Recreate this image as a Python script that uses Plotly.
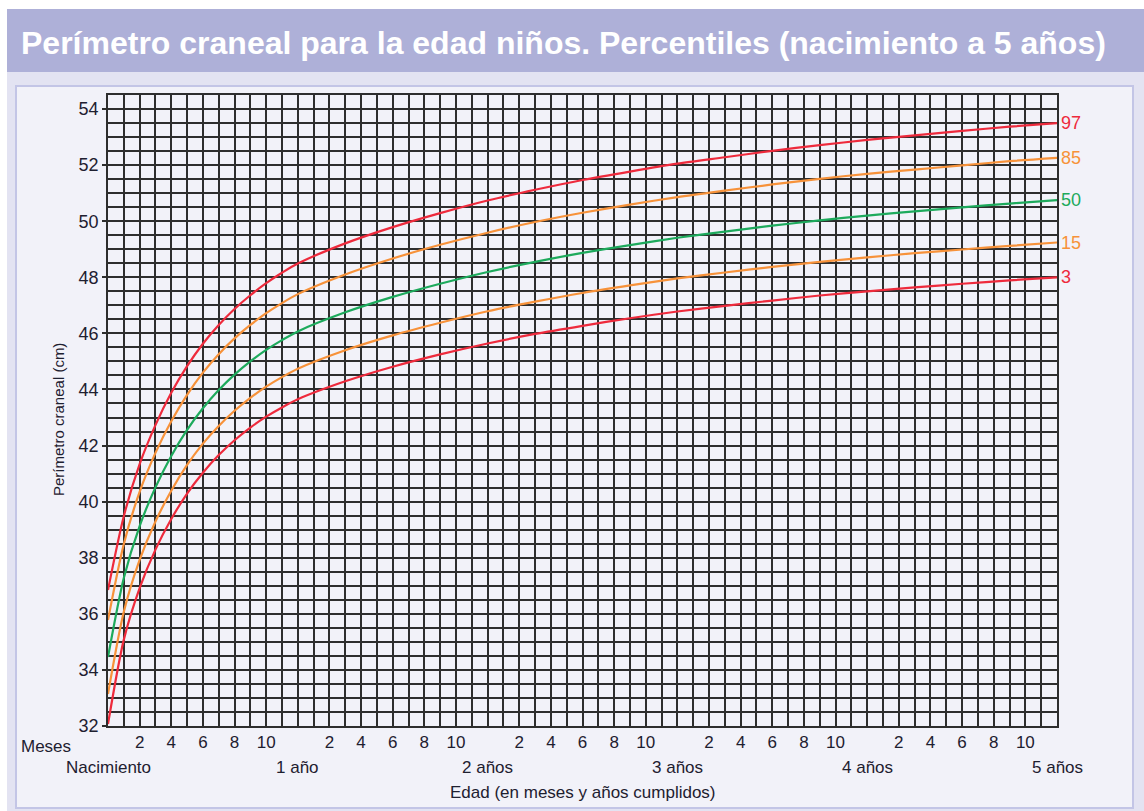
import plotly.graph_objects as go

# ---- data (head circumference for age, boys, cm) ----
age_months = [0, 1, 2, 3, 4, 5, 6, 7, 8, 9, 10, 11, 12, 15, 18, 21, 24, 27, 30, 33, 36,
              39, 42, 45, 48, 51, 54, 57, 60]
p3 = [32.07, 35.08, 36.92, 38.29, 39.38, 40.29, 41.03, 41.66, 42.19, 42.64, 43.03, 43.36, 43.65,
      44.29, 44.81, 45.25, 45.64, 45.98, 46.27, 46.54, 46.78, 46.98, 47.17, 47.35, 47.50, 47.64,
      47.77, 47.89, 48.00]
p15 = [33.14, 36.07, 37.92, 39.29, 40.39, 41.31, 42.07, 42.70, 43.24, 43.70, 44.10, 44.44, 44.74,
       45.40, 45.93, 46.38, 46.79, 47.13, 47.44, 47.71, 47.96, 48.17, 48.37, 48.55, 48.71, 48.86,
       48.99, 49.12, 49.24]
p50 = [34.46, 37.28, 39.13, 40.51, 41.63, 42.56, 43.33, 43.98, 44.53, 45.00, 45.41, 45.76, 46.07,
       46.75, 47.30, 47.77, 48.19, 48.55, 48.87, 49.15, 49.41, 49.63, 49.84, 50.03, 50.20, 50.35,
       50.49, 50.63, 50.75]
p85 = [35.78, 38.49, 40.35, 41.74, 42.87, 43.81, 44.60, 45.26, 45.82, 46.30, 46.72, 47.08, 47.40,
       48.10, 48.67, 49.16, 49.59, 49.97, 50.30, 50.59, 50.86, 51.09, 51.31, 51.51, 51.69, 51.84,
       51.99, 52.14, 52.26]
p97 = [36.85, 39.48, 41.34, 42.73, 43.88, 44.83, 45.63, 46.30, 46.87, 47.36, 47.79, 48.16, 48.49,
       49.21, 49.79, 50.29, 50.74, 51.12, 51.47, 51.77, 52.05, 52.28, 52.51, 52.71, 52.90, 53.06,
       53.22, 53.37, 53.50]

percentile_names = ["97", "85", "50", "15", "3"]
percentile_series = [p97, p85, p50, p15, p3]
percentile_colors = ["#ee2a3c", "#f7923a", "#1daa5c", "#f7923a", "#ee2a3c"]

month_ticks = [m for y in range(5) for m in (12 * y + 2, 12 * y + 4, 12 * y + 6, 12 * y + 8, 12 * y + 10)]
month_labels = [str(m % 12) for m in month_ticks]
year_ticks = [0, 12, 24, 36, 48, 60]
year_labels = ["Nacimiento", "1 año", "2 años", "3 años", "4 años", "5 años"]
cm_ticks = list(range(32, 55, 2))

title_text = "Perímetro craneal para la edad niños. Percentiles (nacimiento a 5 años)"
x_title = "Edad (en meses y años cumplidos)"
y_title = "Perímetro craneal (cm)"

FONT = "Liberation Sans, Arial, sans-serif"
TFONT = "Liberation Sans, Arial, sans-serif"
TXT = "#1e2030"
GRID = "#2e2e2e"
GW = 1.7
W, H = 1144, 811
L, R, T, B = 108, 1057, 95, 726
PW, PH = R - L, B - T


def px(x):
    return (x - L) / PW


def py(y):
    return (B - y) / PH


fig = go.Figure()
for name, vals, col in zip(percentile_names, percentile_series, percentile_colors):
    fig.add_trace(go.Scatter(x=age_months, y=vals, mode="lines", name=name,
                             line=dict(color=col, width=2.2, shape="spline", smoothing=0.8),
                             showlegend=False, hoverinfo="skip"))
    fig.add_annotation(x=age_months[-1], y=vals[-1], xref="x", yref="y", text=name,
                       showarrow=False, xanchor="left", yanchor="middle", xshift=2,
                       font=dict(family=FONT, size=18, color=col))

# background panels
fig.add_shape(type="rect", xref="paper", yref="paper", x0=px(7), x1=px(W), y0=py(H), y1=py(9),
              fillcolor="#e3e3f2", line_width=0, layer="below")
fig.add_shape(type="rect", xref="paper", yref="paper", x0=px(7), x1=px(W), y0=py(72), y1=py(9),
              fillcolor="#aeb0d8", line_width=0, layer="below")
fig.add_shape(type="rect", xref="paper", yref="paper", x0=px(16), x1=px(1133), y0=py(808), y1=py(86),
              fillcolor="#f2f2f9", line=dict(color="#c3c5e6", width=2), layer="below")

# title
fig.add_annotation(xref="paper", yref="paper", x=px(563), y=py(43),
                   text="<b>" + title_text + "</b>", showarrow=False, xanchor="center", yanchor="middle",
                   font=dict(family=TFONT, size=32, color="white"))

# year labels
for yt, yl in zip(year_ticks, year_labels):
    fig.add_annotation(x=yt, y=py(768), xref="x", yref="paper", text=yl, showarrow=False,
                       xanchor="center", yanchor="middle",
                       font=dict(family=FONT, size=17, color=TXT))
fig.add_annotation(x=px(19), y=py(746), xref="paper", yref="paper", text="Meses", showarrow=False,
                   xanchor="left", yanchor="middle", font=dict(family=FONT, size=17, color=TXT))
fig.add_annotation(x=px(583), y=py(792), xref="paper", yref="paper", text=x_title, showarrow=False,
                   xanchor="center", yanchor="middle", font=dict(family=FONT, size=17, color=TXT))
fig.add_annotation(x=px(58), y=py(420), xref="paper", yref="paper", text=y_title,
                   showarrow=False, textangle=-90, xanchor="center", yanchor="middle",
                   font=dict(family=FONT, size=15, color=TXT))

fig.update_layout(
    width=W, height=H,
    margin=dict(l=L, r=W - R, t=T, b=H - B),
    paper_bgcolor="white", plot_bgcolor="rgba(0,0,0,0)",
    font=dict(family=FONT, color=TXT),
    xaxis=dict(range=[0, 60], tickmode="array", tickvals=month_ticks, ticktext=month_labels,
               ticks="", showgrid=True, gridcolor=GRID, gridwidth=GW, zeroline=False,
               showline=True, linecolor=GRID, linewidth=GW, mirror=True, fixedrange=True,
               tickfont=dict(family=FONT, size=17, color=TXT),
               minor=dict(tickmode="linear", tick0=0, dtick=1, showgrid=True, gridcolor=GRID, gridwidth=GW)),
    xaxis2=dict(range=[0, 60], overlaying="x", anchor="y", side="bottom", tickmode="array",
                tickvals=year_ticks[1:], ticks="outside", ticklen=9, tickwidth=GW, tickcolor=GRID,
                showticklabels=False, showgrid=False, zeroline=False, showline=False),
    yaxis=dict(range=[32, 54.5], tickmode="array", tickvals=cm_ticks, ticks="outside", ticklen=4,
               tickwidth=GW, tickcolor=GRID, showgrid=True, gridcolor=GRID, gridwidth=GW,
               zeroline=False, showline=True, linecolor=GRID, linewidth=GW, mirror=True, fixedrange=True,
               tickfont=dict(family=FONT, size=18, color=TXT),
               minor=dict(tickmode="linear", tick0=32, dtick=0.5, showgrid=True, gridcolor=GRID, gridwidth=GW)),
    yaxis2=dict(range=[32, 54.5], overlaying="y", anchor="x", side="right", tickmode="array",
                tickvals=cm_ticks, ticks="outside", ticklen=46, tickwidth=GW, tickcolor=GRID,
                showgrid=False, zeroline=False, showline=False,
                tickfont=dict(family=FONT, size=18, color=TXT)),
)

fig.write_html("out.html", config={"displayModeBar": False},
               post_script="document.body.style.margin='0';")
